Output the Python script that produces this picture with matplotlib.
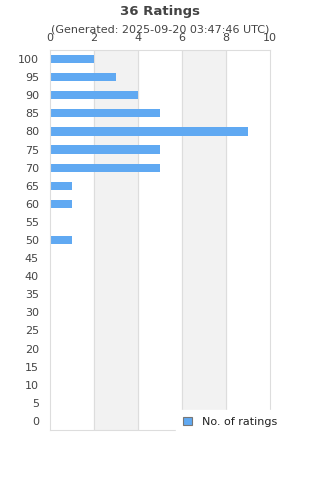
import matplotlib
matplotlib.use("Agg")
from matplotlib import pyplot as plt
from matplotlib.patches import Patch

# Daten
scores = [100, 95, 90, 85, 80, 75, 70, 65, 60, 55, 50, 45, 40, 35, 30, 25, 20, 15, 10, 5, 0]
counts = [2, 3, 4, 5, 9, 5, 5, 1, 1, 0, 1, 0, 0, 0, 0, 0, 0, 0, 0, 0, 0]
x_ticks = [0, 2, 4, 6, 8, 10]

bar_color = "#60a9f2"
text_color = "#444444"
grid_color = "#dddddd"

fig = plt.figure(figsize=(3.2, 4.8), dpi=100)
ax = fig.add_axes([50 / 320, 1 - 430 / 480, 220 / 320, 380 / 480])

pos = list(range(len(scores)))
# Hintergrundstreifen
for i in range(1, len(x_ticks) - 1, 2):
    ax.axvspan(x_ticks[i], x_ticks[i + 1], color="#f2f2f2", zorder=0)
for t in x_ticks[1:-1]:
    ax.axvline(t, color=grid_color, lw=0.8, zorder=1)

ax.barh(pos, counts, height=0.45, color=bar_color, zorder=2)

ax.set_xlim(0, 10)
ax.set_ylim(len(scores) - 0.5, -0.5)
ax.set_yticks(pos)
ax.set_yticklabels([str(s) for s in scores])
ax.set_xticks(x_ticks)
ax.xaxis.tick_top()
ax.tick_params(axis="both", length=0, colors=text_color, labelsize=8)
ax.tick_params(axis="x", pad=5)
ax.tick_params(axis="y", pad=8)
for s in ax.spines.values():
    s.set_color(grid_color)
    s.set_linewidth(0.8)

fig.text(0.5, 1 - 11 / 480, "36 Ratings", ha="center", va="center",
         fontsize=9.5, fontweight="bold", color=text_color)
fig.text(0.5, 1 - 30 / 480, "(Generated: 2025-09-20 03:47:46 UTC)", ha="center",
         va="center", fontsize=8, color=text_color)

leg = fig.legend(handles=[Patch(facecolor=bar_color, edgecolor="#777777", lw=0.8)],
                 labels=["No. of ratings"], loc="center left",
                 bbox_to_anchor=(176 / 320, 1 - 422 / 480), frameon=True,
                 fontsize=8, handlelength=0.8, handleheight=0.8,
                 handletextpad=0.9, borderpad=0.6, borderaxespad=0,
                 fancybox=False)
leg.get_frame().set_edgecolor("white")
leg.get_frame().set_facecolor("white")
leg.get_frame().set_alpha(1)
for t in leg.get_texts():
    t.set_color("#222222")

plt.savefig("out.png", dpi=100)
